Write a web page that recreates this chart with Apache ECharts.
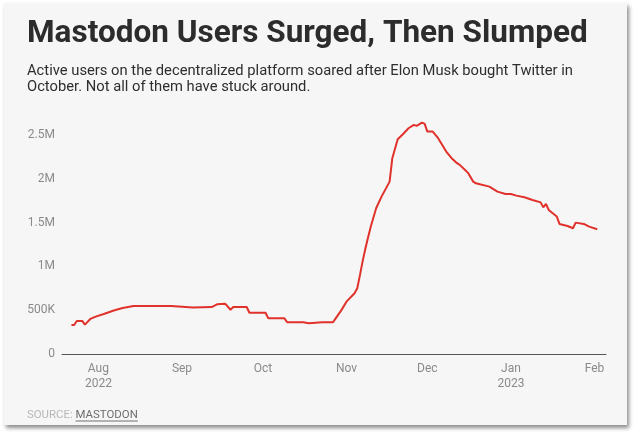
<!DOCTYPE html>
<html><head><meta charset="utf-8">
<script src="https://cdn.jsdelivr.net/npm/echarts@6/dist/echarts.min.js"></script>
<style>
html,body{margin:0;padding:0;background:#fff;width:640px;height:439px;overflow:hidden}
#card{position:absolute;left:4px;top:3px;width:623px;height:422px;background:#f6f6f6;box-shadow:2px 3px 4px rgba(0,0,0,0.45)}
#chart{position:absolute;left:0;top:0;width:640px;height:439px}
</style></head>
<body><div id="card"></div><div id="chart"></div>
<script>
const dates = ['2022-07-22','2022-07-23','2022-07-24','2022-07-26','2022-07-27','2022-07-29','2022-07-31','2022-08-03','2022-08-07','2022-08-10','2022-08-14','2022-08-22','2022-08-28','2022-09-05','2022-09-12','2022-09-14','2022-09-17','2022-09-19','2022-09-20','2022-09-25','2022-09-26','2022-10-02','2022-10-03','2022-10-09','2022-10-10','2022-10-16','2022-10-18','2022-10-23','2022-10-27','2022-10-28','2022-10-30','2022-11-01','2022-11-04','2022-11-05','2022-11-06','2022-11-07','2022-11-08','2022-11-09','2022-11-10','2022-11-12','2022-11-14','2022-11-15','2022-11-17','2022-11-18','2022-11-20','2022-11-22','2022-11-24','2022-11-26','2022-11-27','2022-11-29','2022-11-30','2022-12-01','2022-12-03','2022-12-05','2022-12-08','2022-12-10','2022-12-12','2022-12-13','2022-12-15','2022-12-16','2022-12-18','2022-12-19','2022-12-24','2022-12-27','2022-12-30','2023-01-01','2023-01-03','2023-01-06','2023-01-09','2023-01-12','2023-01-13','2023-01-14','2023-01-15','2023-01-18','2023-01-19','2023-01-22','2023-01-24','2023-01-25','2023-01-28','2023-01-30','2023-02-02'];
const activeUsers = [331000,331000,377000,377000,335000,400000,426000,457000,500000,525000,548000,548000,548000,530000,536000,567000,574000,505000,536000,536000,471000,471000,407000,407000,362000,362000,352000,362000,362000,407000,495000,597000,693000,750000,900000,1060000,1200000,1330000,1453000,1663000,1796000,1853000,1967000,2234000,2451000,2510000,2576000,2614000,2603000,2641000,2626000,2538000,2538000,2462000,2310000,2234000,2177000,2158000,2100000,2070000,1967000,1948000,1910000,1853000,1826000,1826000,1807000,1788000,1758000,1730000,1674000,1712000,1644000,1568000,1484000,1461000,1435000,1499000,1484000,1453000,1423000];
const tickDates = ['2022-08-01','2022-09-01','2022-10-01','2022-11-01','2022-12-01','2023-01-01','2023-02-01'];
const tickLabels = ['Aug\n2022','Sep','Oct','Nov','Dec','Jan\n2023','Feb'];
const yTicks = [0,500000,1000000,1500000,2000000,2500000];
const yTickLabels = ['0','500K','1M','1.5M','2M','2.5M'];
const titleText = 'Mastodon Users Surged, Then Slumped';
const subLines = ['Active users on the decentralized platform soared after Elon Musk bought Twitter in','October. Not all of them have stuck around.'];

const parseT = s => Date.UTC(+s.slice(0,4), +s.slice(5,7) - 1, +s.slice(8,10));
const tickTs = tickDates.map(parseT);

const FF = 'Roboto, "Noto Sans", sans-serif';
const ctx = document.createElement('canvas').getContext('2d');
function fit(text, weight, target) {
  ctx.font = weight + ' 100px ' + FF;
  return 100 * target / ctx.measureText(text).width;
}
function measure(text, weight, size) {
  ctx.font = weight + ' ' + size + 'px ' + FF;
  return ctx.measureText(text).width;
}
const titleSize = fit(titleText, 'bold', 561);
const subSize = fit(subLines[0], 'normal', 546);
const srcSize = fit('SOURCE: MASTODON', 'normal', 111);
const srcW1 = measure('SOURCE: ', 'normal', srcSize);
const srcW2 = measure('MASTODON', 'normal', srcSize);

const chart = echarts.init(document.getElementById('chart'), null, {renderer: 'canvas'});
chart.setOption({
  backgroundColor: 'transparent',
  animation: false,
  grid: {left: 62, right: 34, top: 113, bottom: 85, containLabel: false},
  xAxis: {
    type: 'value',
    min: parseT('2022-07-18') + 12 * 3600e3,
    max: parseT('2023-02-05') + 6 * 3600e3,
    axisLine: {show: true, lineStyle: {color: '#555', width: 1}},
    axisTick: {show: false},
    splitLine: {show: false},
    axisLabel: {
      customValues: tickTs,
      color: '#8a8a8a', fontSize: 12, lineHeight: 15, margin: 7, fontFamily: FF,
      formatter: function (v) {
        const i = tickTs.indexOf(v);
        return i >= 0 ? tickLabels[i] : '';
      }
    }
  },
  yAxis: {
    type: 'value', min: 0, max: 2750000, interval: 500000,
    axisLine: {show: false}, axisTick: {show: false}, splitLine: {show: false},
    axisLabel: {
      color: '#8a8a8a', fontSize: 12, margin: 7, fontFamily: FF, showMaxLabel: false,
      formatter: function (v) { const i = yTicks.indexOf(v); return i >= 0 ? yTickLabels[i] : ''; }
    }
  },
  series: [{
    type: 'line',
    data: dates.map((d, i) => [parseT(d), activeUsers[i]]),
    showSymbol: false,
    lineStyle: {color: '#e0312b', width: 2},
    itemStyle: {color: '#e0312b'}
  }],
  graphic: [
    {type: 'text', x: 27, y: 45 - 0.33 * titleSize, style: {text: titleText, fontSize: titleSize, fontWeight: 'bold', fontFamily: FF, fill: '#2c2c2c', align: 'left', verticalAlign: 'middle'}},
    {type: 'text', x: 27, y: 76 - 0.33 * subSize, style: {text: subLines[0], fontSize: subSize, fontFamily: FF, fill: '#2e2e2e', align: 'left', verticalAlign: 'middle'}},
    {type: 'text', x: 27, y: 92 - 0.33 * subSize, style: {text: subLines[1], fontSize: subSize, fontFamily: FF, fill: '#2e2e2e', align: 'left', verticalAlign: 'middle'}},
    {type: 'text', x: 27, y: 419 - 0.33 * srcSize, style: {text: 'SOURCE: ', fontSize: srcSize, fontFamily: FF, fill: '#b8b8b8', align: 'left', verticalAlign: 'middle'}},
    {type: 'text', x: 27 + srcW1, y: 419 - 0.33 * srcSize, style: {text: 'MASTODON', fontSize: srcSize, fontFamily: FF, fill: '#6e6e6e', align: 'left', verticalAlign: 'middle'}},
    {type: 'line', shape: {x1: 27 + srcW1, y1: 421, x2: 27 + srcW1 + srcW2, y2: 421}, style: {stroke: '#6e6e6e', lineWidth: 1}}
  ]
});
</script>
</body></html>
